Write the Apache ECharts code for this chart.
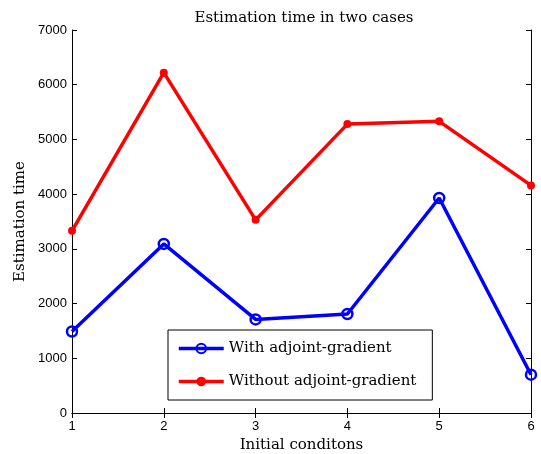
<!DOCTYPE html>
<html><head><meta charset="utf-8">
<script src="https://cdn.jsdelivr.net/npm/echarts@6/dist/echarts.min.js"></script>
<style>html,body{margin:0;padding:0;background:#fff}#c{width:541px;height:454px}</style>
</head><body><div id="c"></div>
<script>
const categories = [1, 2, 3, 4, 5, 6];
const withAdjoint = [1490, 3090, 1710, 1810, 3930, 700];
const withoutAdjoint = [3330, 6220, 3530, 5280, 5330, 4160];
const yTicks = [0, 1000, 2000, 3000, 4000, 5000, 6000, 7000];

const chart = echarts.init(document.getElementById('c'));
const serif = '"DejaVu Serif", "Liberation Serif", serif';
const sans = '"Liberation Sans", Arial, sans-serif';
const axisCommon = {
  axisLine: {show: true, lineStyle: {color: '#000', width: 1}},
  axisTick: {show: true, inside: true, length: 5, lineStyle: {color: '#000'}},
  splitLine: {show: false}
};
chart.setOption({
  animation: false,
  backgroundColor: '#fff',
  title: {text: 'Estimation time in two cases', left: 299, top: 6, textAlign: 'center',
    textStyle: {fontFamily: serif, fontWeight: 'normal', fontSize: 15, color: '#000'}},
  grid: {left: 72, right: 10, top: 30, bottom: 41, outerBoundsMode: 'none', containLabel: false},
  legend: {
    orient: 'vertical', left: 168, top: 330,
    padding: [11, 16, 11, 9], itemGap: 18, itemWidth: 45, itemHeight: 12,
    borderColor: '#000', borderWidth: 1, backgroundColor: '#fff',
    textStyle: {fontFamily: serif, fontSize: 15, color: '#000'},
    lineStyle: {width: 3.5},
    data: ['With adjoint-gradient', 'Without adjoint-gradient']
  },
  xAxis: [
    Object.assign({type: 'value', min: 1, max: 6, interval: 1, position: 'bottom',
      name: 'Initial conditons', nameLocation: 'middle', nameGap: 22,
      nameTextStyle: {fontFamily: serif, fontSize: 15, color: '#000'},
      axisLabel: {fontFamily: sans, fontSize: 13, color: '#000', margin: 7}}, axisCommon),
    Object.assign({type: 'value', min: 1, max: 6, interval: 1, position: 'top',
      axisLabel: {show: false}}, axisCommon)
  ],
  yAxis: [
    Object.assign({type: 'value', min: 0, max: 7000, interval: 1000, position: 'left',
      name: 'Estimation time', nameLocation: 'middle', nameGap: 42,
      nameTextStyle: {fontFamily: serif, fontSize: 15, color: '#000'},
      axisLabel: {fontFamily: sans, fontSize: 13, color: '#000', margin: 5,
        formatter: v => yTicks.includes(v) ? String(v) : ''}}, axisCommon),
    Object.assign({type: 'value', min: 0, max: 7000, interval: 1000, position: 'right',
      axisLabel: {show: false}}, axisCommon)
  ],
  series: [
    {name: 'With adjoint-gradient', type: 'line',
      data: categories.map((c, i) => [c, withAdjoint[i]]),
      symbol: 'circle', symbolSize: 10,
      lineStyle: {color: '#0000ff', width: 3.5},
      itemStyle: {color: 'rgba(255,255,255,0)', borderColor: '#0000ff', borderWidth: 2.5}},
    {name: 'Without adjoint-gradient', type: 'line',
      data: categories.map((c, i) => [c, withoutAdjoint[i]]),
      symbol: 'circle', symbolSize: 8,
      lineStyle: {color: '#ff0000', width: 3.5},
      itemStyle: {color: '#ff0000'}}
  ]
});
</script></body></html>
